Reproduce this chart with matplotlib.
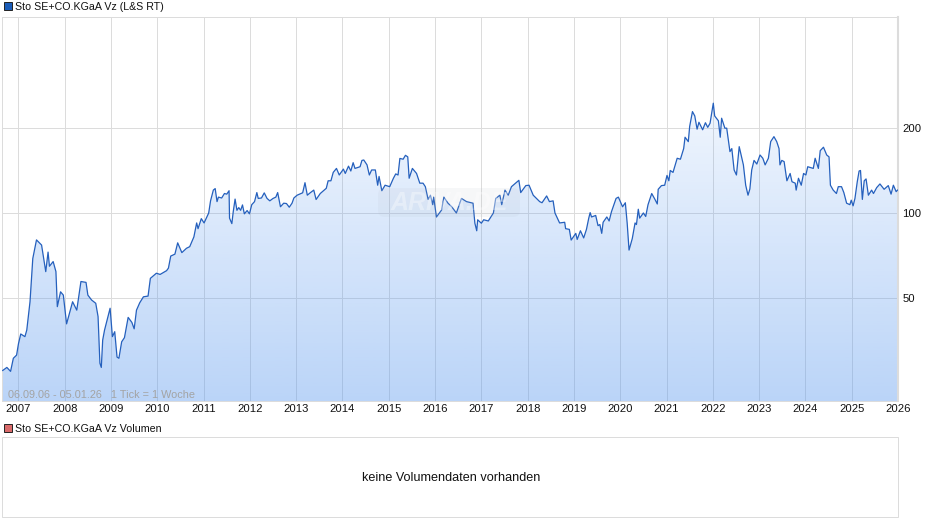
import matplotlib
matplotlib.use("Agg")
import numpy as np
from matplotlib import pyplot as plt
from matplotlib.patches import FancyBboxPatch, Polygon, Rectangle

plt.rcParams['font.family'] = ['Liberation Sans', 'DejaVu Sans']

name = 'Sto SE+CO.KGaA Vz'
year_ticks = list(range(2007, 2027))
price_ticks = [50, 100, 200]

years = [
    2006.66, 2006.75, 2006.83, 2006.89, 2006.96, 2007.00, 2007.05, 2007.14, 2007.18, 2007.25, 2007.31, 2007.39,
    2007.50, 2007.59, 2007.64, 2007.67, 2007.75, 2007.81, 2007.84, 2007.91, 2007.97,
    2008.04, 2008.17, 2008.26, 2008.35, 2008.46, 2008.50, 2008.58, 2008.67, 2008.72, 2008.76, 2008.79, 2008.82, 2008.86, 2008.98,
    2009.03, 2009.08, 2009.13, 2009.17, 2009.23, 2009.29, 2009.37, 2009.45, 2009.50, 2009.55, 2009.62, 2009.70, 2009.80, 2009.85, 2009.98,
    2010.06, 2010.20, 2010.24, 2010.29, 2010.38, 2010.44, 2010.53, 2010.63, 2010.70, 2010.79, 2010.85, 2010.88, 2010.95,
    2011.01, 2011.07, 2011.11, 2011.15, 2011.21, 2011.25, 2011.29, 2011.32, 2011.39, 2011.45, 2011.50, 2011.55, 2011.56, 2011.61, 2011.64, 2011.68, 2011.72, 2011.76, 2011.80, 2011.84, 2011.88, 2011.94, 2011.99,
    2012.04, 2012.10, 2012.15, 2012.18, 2012.25, 2012.31, 2012.37, 2012.43, 2012.50, 2012.56, 2012.60, 2012.66, 2012.73, 2012.79, 2012.85, 2012.91, 2012.95,
    2013.02, 2013.14, 2013.19, 2013.24, 2013.30, 2013.38, 2013.43, 2013.52, 2013.65, 2013.69, 2013.75, 2013.80, 2013.87, 2013.93,
    2014.02, 2014.06, 2014.13, 2014.18, 2014.23, 2014.27, 2014.38, 2014.42, 2014.46, 2014.53, 2014.58, 2014.63, 2014.71, 2014.76, 2014.79, 2014.85, 2014.92,
    2015.02, 2015.10, 2015.15, 2015.20, 2015.24, 2015.31, 2015.36, 2015.41, 2015.44, 2015.51, 2015.60, 2015.67, 2015.74, 2015.79, 2015.85, 2015.90, 2015.95, 2015.97,
    2016.03, 2016.14, 2016.19, 2016.28, 2016.36, 2016.46, 2016.57, 2016.68, 2016.82, 2016.86, 2016.90, 2016.92,
    2017.00, 2017.05, 2017.15, 2017.26, 2017.31, 2017.40, 2017.44, 2017.51, 2017.58, 2017.65, 2017.72, 2017.81, 2017.85, 2017.96,
    2018.03, 2018.12, 2018.26, 2018.31, 2018.41, 2018.47, 2018.55, 2018.59, 2018.69, 2018.80, 2018.82, 2018.90, 2018.94,
    2019.04, 2019.07, 2019.14, 2019.21, 2019.27, 2019.32, 2019.35, 2019.38, 2019.47, 2019.52, 2019.56, 2019.60, 2019.63, 2019.71, 2019.76, 2019.81, 2019.91, 2019.96,
    2020.05, 2020.11, 2020.15, 2020.19, 2020.26, 2020.32, 2020.35, 2020.39, 2020.42, 2020.50, 2020.55, 2020.60, 2020.68, 2020.75, 2020.80, 2020.82, 2020.89, 2020.96,
    2021.01, 2021.05, 2021.08, 2021.14, 2021.23, 2021.30, 2021.37, 2021.40, 2021.47, 2021.50, 2021.56, 2021.61, 2021.66, 2021.70, 2021.78, 2021.84, 2021.89, 2021.94,
    2022.01, 2022.04, 2022.12, 2022.16, 2022.19, 2022.26, 2022.30, 2022.34, 2022.37, 2022.41, 2022.46, 2022.51, 2022.57, 2022.66, 2022.71, 2022.76, 2022.80, 2022.84, 2022.89, 2022.95,
    2023.02, 2023.08, 2023.13, 2023.20, 2023.25, 2023.32, 2023.38, 2023.43, 2023.45, 2023.49, 2023.54, 2023.60, 2023.67, 2023.71, 2023.78, 2023.80, 2023.85, 2023.91, 2023.96,
    2024.01, 2024.05, 2024.17, 2024.21, 2024.28, 2024.32, 2024.39, 2024.46, 2024.51, 2024.54, 2024.60, 2024.67, 2024.71, 2024.78, 2024.83, 2024.89, 2024.96, 2024.99,
    2025.03, 2025.07, 2025.12, 2025.16, 2025.19, 2025.23, 2025.27, 2025.31, 2025.36, 2025.43, 2025.47, 2025.54, 2025.61, 2025.70, 2025.79, 2025.85, 2025.90, 2025.96, 2025.99,
]
prices = [
    27.7, 28.4, 27.5, 30.6, 31.4, 34.4, 37.3, 36.5, 38.5, 48.5, 69, 80.3,
    77, 62, 72.7, 64.8, 67.3, 62, 46.6, 52.6, 51.2,
    40.5, 48.5, 45.3, 57.2, 56.8, 51.2, 49.2, 47.9, 43, 29.4, 28.4, 35.5, 38.5, 46,
    36.5, 38, 30.9, 30.6, 35, 36.2, 42.7, 41, 38.9, 45.3, 48.1, 50.5, 50.8, 58.7, 61.2,
    60.6, 62.5, 63.8, 70.4, 71.5, 78.4, 72.4, 75, 76, 82.3, 92.2, 88, 95.5,
    92.2, 96.8, 100, 110.4, 120.5, 122, 109.7, 113.8, 113, 117.2, 116.6, 119.9, 95.9, 91.7, 101, 112, 102.2, 104.5, 102.2, 106.8, 99.3, 102, 99.3,
    107, 109.7, 118.1, 112.6, 113, 117.8, 112.6, 110.4, 112.6, 113.8, 118.1, 105.2, 108.3, 108, 104.8, 108.3, 113,
    115.6, 117.9, 128, 115.6, 117.8, 120.5, 111.6, 117.2, 122.3, 130, 130, 139.2, 143.8, 136.3,
    143, 138, 146.5, 140.8, 150.7, 143.8, 145.8, 153.5, 154, 148, 136.3, 142, 142, 125.4, 134.7, 119.9, 125.4,
    123.9, 132.7, 137.5, 136.3, 156, 155, 160, 158, 132.7, 143.8, 138, 127.5, 127.5, 123.9, 111.7, 115.6, 107, 113.8,
    96.8, 102.4, 113.8, 108.3, 105.2, 100, 112.6, 109.7, 108.3, 92, 86.5, 94.6,
    92, 94.6, 93.7, 100, 112.6, 115.6, 107, 120.5, 115.6, 123.9, 126.7, 130.5, 118.1, 125,
    125.4, 115.6, 109.7, 108.7, 114.9, 109.7, 110.4, 100, 92.2, 92.7, 88, 87.5, 80.2,
    84.7, 80.6, 86.5, 81.6, 87.5, 95.9, 100.3, 96.8, 98, 90.2, 91, 84.7, 92.7, 96.8, 93.7, 101, 112.6, 113.8,
    105.2, 108.7, 92, 73.9, 81.2, 92.2, 91, 103.1, 95.9, 100, 97.2, 107, 117.2, 111.7, 107.6, 121.3, 125, 125.4,
    135.8, 130, 141.4, 139.2, 156.2, 155, 169, 185.4, 178.9, 202.6, 228.5, 220.5, 198, 209.5, 197, 208.7, 201, 207.8,
    244.7, 220.5, 212, 185.4, 216.5, 199.6, 199.6, 178.9, 164.9, 169, 142, 136.3, 171.7, 148, 125.4, 115.6, 121.6, 142, 153.5, 149,
    160.4, 156.2, 148, 156.2, 178.9, 186.3, 178.9, 169, 148, 153.5, 152, 130, 138, 129, 127.5, 120.5, 132.7, 125.4, 138,
    136.3, 145.8, 143.8, 156.2, 143.8, 166.2, 170.9, 160.4, 158, 125.4, 120.5, 117.2, 123.9, 123.9, 118.1, 108.3, 107, 111,
    106, 112.6, 129, 140.8, 141.4, 111.7, 130, 132, 115.6, 120.5, 117.2, 123, 126.7, 121.3, 125, 116.6, 125.4, 119, 120.5,
]

W, H = 940, 526
fig = plt.figure(figsize=(W / 100, H / 100), dpi=100)
ax = fig.add_axes([2 / W, (H - 401) / H, 896 / W, 384 / H])
ax.set_yscale('log')

grid_col = '#dcdcdc'
ax.set_xticks(year_ticks)
ax.set_xticklabels([str(y) for y in year_ticks], fontsize=8.1, color='#111111')
ax.set_yticks(price_ticks)
ax.set_yticklabels([str(p) for p in price_ticks], fontsize=8.1, color='#111111')
ax.minorticks_off()
ax.yaxis.tick_right()
ax.tick_params(axis='both', length=0)
ax.tick_params(axis='x', pad=2)
ax.tick_params(axis='y', pad=3)
ax.grid(True, color=grid_col, lw=0.72)
ax.set_axisbelow(True)
for side in ax.spines:
    ax.spines[side].set_color(grid_col)
    ax.spines[side].set_linewidth(0.72)
ax.spines['right'].set_linewidth(1.5)

# blue gradient under the line, translucent so the grid shows through
grad = np.ones((256, 1, 4))
grad[:, 0, 0] = 0.36
grad[:, 0, 1] = 0.60
grad[:, 0, 2] = 0.94
grad[:, 0, 3] = np.linspace(0.0, 0.42, 256)
img = ax.imshow(grad, extent=[0, 1, 0, 1], transform=ax.transAxes, aspect='auto', origin='upper', zorder=1.5)
outline = list(zip(years, prices)) + [(years[-1], 21.6), (years[0], 21.6)]
clip = Polygon(outline, closed=True, transform=ax.transData, fill=False, lw=0)
ax.add_patch(clip)
img.set_clip_path(clip)
ax.set_xlim(2006.645, 2026.0)
ax.set_ylim(21.6, 494)

ax.plot(years, prices, color='#2560bd', lw=0.9, zorder=3, solid_joinstyle='round')

# watermark
bg = fig.add_axes([0, 0, 1, 1], zorder=5)
bg.set_xlim(0, W)
bg.set_ylim(H, 0)
bg.axis('off')
bg.add_patch(FancyBboxPatch((378, 188), 142, 29, boxstyle='round,pad=0,rounding_size=7', fc='#b0b8c4', ec='none', alpha=0.10, mutation_aspect=1))
bg.text(449, 203, 'ARIVA.DE', color='white', alpha=0.35, fontsize=18, fontweight='bold', style='italic', ha='center', va='center')

bg.text(8, 395.5, '06.09.06 - 05.01.26   1 Tick = 1 Woche', color='#a3a3a3', fontsize=7.8, va='center')

# legends
bg.add_patch(Rectangle((3.5, 1.5), 8, 8, fc='#1a5cb8', ec='#222222', lw=0.7))
bg.text(15, 6.5, name + ' (L&S RT)', color='#111111', fontsize=7.7, va='center')
bg.add_patch(Rectangle((3.5, 423.5), 8, 8, fc='#d96a6a', ec='#222222', lw=0.7))
bg.text(15, 428.5, name + ' Volumen', color='#111111', fontsize=7.7, va='center')

# empty volume panel
bg.add_patch(Rectangle((2, 437), 896, 80, fc='white', ec=grid_col, lw=0.72))
bg.text(451.5, 478, 'keine Volumendaten vorhanden', color='#111111', fontsize=9.1, ha='center', va='center')

fig.savefig('out.png', dpi=100)
